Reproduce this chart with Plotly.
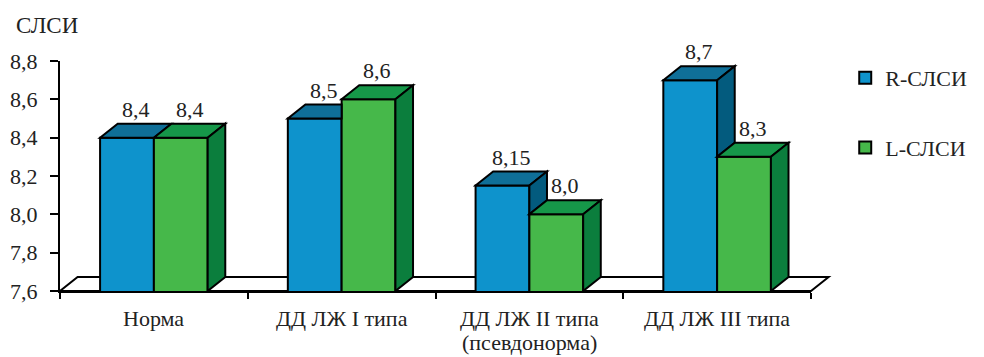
import plotly.graph_objects as go

# ---- data ----
categories = ["Норма", "ДД ЛЖ I типа", "ДД ЛЖ II типа", "ДД ЛЖ III типа"]
category_notes = ["", "", "(псевдонорма)", ""]
r_slsi = [8.4, 8.5, 8.15, 8.7]
l_slsi = [8.4, 8.6, 8.0, 8.3]
y_ticks = [7.6, 7.8, 8.0, 8.2, 8.4, 8.6, 8.8]
series_names = ["R-СЛСИ", "L-СЛСИ"]

# ---- styling ----
FONT = "Liberation Serif"
FS = 22
TXT = "#222222"
BLUE = ("#0E93CC", "#0F6F98", "#035B7E")   # front, top, side
GREEN = ("#46B84A", "#169749", "#0B7E3D")

W, H = 984, 357
ML, MR, MT, MB = 60, 156, 61, 66
PW, PH = W - ML - MR, H - MT - MB
X0, X1 = -0.5, len(categories) - 0.5
Y0, Y1 = y_ticks[0], y_ticks[-1]
BARGAP = 0.427
BW = (1 - BARGAP) / 2
xpos = list(range(len(categories)))
boundaries = [i - 0.5 for i in range(len(categories) + 1)]

# depth of the pseudo-3D extrusion, pixels -> axis units
DXP, DYP = 18, 14
DX = DXP * (X1 - X0) / PW
DY = DYP * (Y1 - Y0) / PH


def fmt(v):
    s = "%.1f" % v if abs(round(v, 1) - v) < 1e-9 else "%.2f" % v
    return s.replace(".", ",")


def poly(pts):
    return "M " + " L ".join(f"{x},{y}" for x, y in pts) + " Z"


def to_paper(x, y):
    return (x - X0) / (X1 - X0), (y - Y0) / (Y1 - Y0)


def label(**kw):
    kw.setdefault("showarrow", False)
    kw.setdefault("font", dict(family=FONT, size=FS, color=TXT))
    return kw


fig = go.Figure()
for name, vals, col in [(series_names[0], r_slsi, BLUE), (series_names[1], l_slsi, GREEN)]:
    fig.add_trace(go.Bar(
        x=xpos, y=vals, name=name, legendgroup=name,
        marker=dict(color=col[0], line=dict(color="black", width=2)),
        hovertext=categories, hoverinfo="text+y",
    ))

shapes = []
# floor of the 3D box
floor = [to_paper(X0, Y0), to_paper(X1, Y0), to_paper(X1 + DX, Y0 + DY), to_paper(X0 + DX, Y0 + DY)]
shapes.append(dict(type="path", xref="paper", yref="paper", path=poly(floor),
                   fillcolor="white", line=dict(color="black", width=2), layer="below"))

annotations = []
for i, (rv, lv) in enumerate(zip(r_slsi, l_slsi)):
    # R bar: x in [i-BW, i]; L bar: x in [i, i+BW]
    bl, br = i - BW, i
    gl, gr = i, i + BW
    # top face of R bar (right part hidden when L bar is taller)
    if lv > rv:
        top_r = [(bl, rv), (br, rv), (br, rv + DY), (bl + DX, rv + DY)]
    else:
        top_r = [(bl, rv), (br, rv), (br + DX, rv + DY), (bl + DX, rv + DY)]
    shapes.append(dict(type="path", xref="x", yref="y", path=poly(top_r),
                       fillcolor=BLUE[1], line=dict(color="black", width=2)))
    # side face of R bar visible above the L bar
    if rv > lv:
        side_r = [(br, lv), (br, rv), (br + DX, rv + DY), (br + DX, lv + DY)]
        shapes.append(dict(type="path", xref="x", yref="y", path=poly(side_r),
                           fillcolor=BLUE[2], line=dict(color="black", width=2)))
    top_l = [(gl, lv), (gr, lv), (gr + DX, lv + DY), (gl + DX, lv + DY)]
    shapes.append(dict(type="path", xref="x", yref="y", path=poly(top_l),
                       fillcolor=GREEN[1], line=dict(color="black", width=2)))
    side_l = [(gr, Y0), (gr, lv), (gr + DX, lv + DY), (gr + DX, Y0 + DY)]
    shapes.append(dict(type="path", xref="x", yref="y", path=poly(side_l),
                       fillcolor=GREEN[2], line=dict(color="black", width=2)))

    # value labels above the top faces
    for cx, v in [((bl + br) / 2, rv), ((gl + gr) / 2, lv)]:
        annotations.append(label(x=cx + DX / 2, y=v + DY, xref="x", yref="y", text=fmt(v),
                                 yanchor="bottom", xanchor="center"))

    # category labels under the axis
    annotations.append(label(x=i, y=0, xref="x", yref="paper", text=categories[i],
                             yanchor="top", xanchor="center", yshift=-13))
    if category_notes[i]:
        annotations.append(label(x=i, y=0, xref="x", yref="paper", text=category_notes[i],
                                 yanchor="top", xanchor="center", yshift=-37))

# y tick labels with decimal comma
for t in y_ticks:
    annotations.append(label(x=-20 / PW, y=t, xref="paper", yref="y", text=fmt(t),
                             xanchor="right", yanchor="middle"))

# axis title
annotations.append(label(x=-ML / PW + 13 / PW, y=1 + 36 / PH, xref="paper", yref="paper",
                         text="СЛСИ", xanchor="left", yanchor="middle",
                         font=dict(family=FONT, size=23, color=TXT)))

fig.update_layout(
    width=W, height=H,
    margin=dict(l=ML, r=MR, t=MT, b=MB, pad=0),
    paper_bgcolor="white", plot_bgcolor="white",
    barmode="group", bargap=BARGAP, bargroupgap=0,
    font=dict(family=FONT, size=FS, color=TXT),
    shapes=shapes, annotations=annotations,
    legend=dict(x=1 + 35 / PW, y=1 + 4 / PH, xanchor="left", yanchor="top",
                font=dict(family=FONT, size=FS, color=TXT),
                tracegroupgap=38, bgcolor="rgba(0,0,0,0)"),
    xaxis=dict(range=[X0, X1], tickvals=boundaries, showticklabels=False,
               ticks="outside", ticklen=6, tickwidth=1.5, tickcolor="black",
               showline=True, linecolor="black", linewidth=2,
               showgrid=False, zeroline=False),
    yaxis=dict(range=[Y0, Y1], tickvals=y_ticks, showticklabels=False,
               ticks="outside", ticklen=8, tickwidth=1.5, tickcolor="black",
               showline=True, linecolor="black", linewidth=2,
               showgrid=False, zeroline=False),
)

fig.write_html("out.html")
